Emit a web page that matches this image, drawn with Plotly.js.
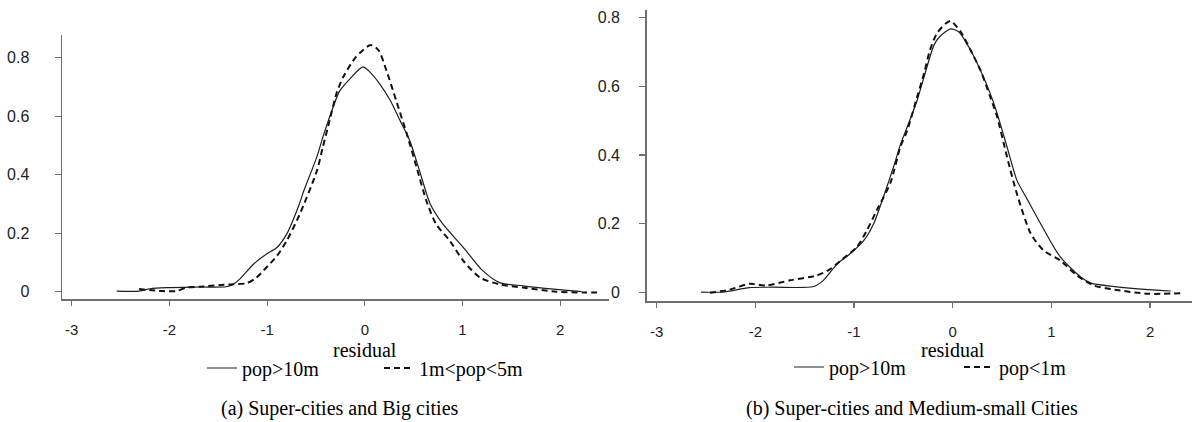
<!DOCTYPE html>
<html>
<head>
<meta charset="utf-8">
<script src="https://cdn.plot.ly/plotly-3.0.1.min.js"></script>
<style>
html,body{margin:0;padding:0;background:#fff;}
#chart{width:1192px;height:422px;}
</style>
</head>
<body>
<div id="chart"></div>
<script>
// ---- Panel (a): Super-cities (pop>10m) vs Big cities (1m<pop<5m) ----
const aSuperX = [-2.54,-2.31,-2.20,-2.03,-1.69,-1.42,-1.35,-1.28,-1.14,-1.01,-0.90,-0.80,-0.67,-0.63,-0.49,-0.43,-0.32,-0.26,-0.15,-0.02,0.05,0.15,0.26,0.36,0.46,0.56,0.67,0.80,1.01,1.21,1.38,1.62,1.96,2.22];
const aSuperY = [0.002,0.002,0.010,0.014,0.016,0.017,0.025,0.043,0.094,0.128,0.151,0.197,0.300,0.340,0.462,0.528,0.635,0.685,0.729,0.769,0.752,0.712,0.655,0.586,0.517,0.414,0.300,0.231,0.151,0.071,0.031,0.020,0.008,0.000];
const aBigX = [-2.31,-2.07,-1.93,-1.83,-1.69,-1.38,-1.21,-1.11,-1.01,-0.90,-0.80,-0.67,-0.49,-0.43,-0.36,-0.29,-0.22,-0.09,0.06,0.14,0.22,0.32,0.43,0.53,0.63,0.73,0.87,1.01,1.18,1.38,1.62,1.96,2.24,2.41];
const aBigY = [0.009,0.002,0.002,0.014,0.017,0.025,0.029,0.048,0.082,0.122,0.174,0.262,0.414,0.494,0.586,0.678,0.735,0.803,0.844,0.826,0.758,0.655,0.540,0.426,0.311,0.231,0.174,0.105,0.048,0.025,0.014,0.000,-0.003,-0.003];

// ---- Panel (b): Super-cities (pop>10m) vs Medium-small cities (pop<1m) ----
const bSuperX = [-2.55,-2.33,-2.06,-1.82,-1.41,-1.31,-1.17,-1.04,-0.90,-0.80,-0.70,-0.60,-0.53,-0.46,-0.36,-0.29,-0.19,-0.13,-0.02,0.06,0.18,0.28,0.38,0.45,0.55,0.65,0.76,0.89,1.09,1.30,1.40,1.64,1.98,2.21];
const bSuperY = [0.002,0.002,0.015,0.016,0.018,0.036,0.084,0.113,0.152,0.201,0.280,0.365,0.430,0.482,0.559,0.627,0.719,0.744,0.766,0.758,0.705,0.647,0.579,0.521,0.424,0.327,0.269,0.201,0.104,0.045,0.028,0.018,0.009,0.005];
const bSmallX = [-2.46,-2.26,-2.06,-1.89,-1.65,-1.38,-1.25,-1.11,-0.97,-0.87,-0.77,-0.63,-0.53,-0.46,-0.36,-0.29,-0.23,-0.16,-0.07,-0.02,0.08,0.18,0.28,0.38,0.45,0.55,0.65,0.79,0.92,1.09,1.26,1.43,1.64,1.98,2.32];
const bSmallY = [0.000,0.009,0.026,0.021,0.036,0.050,0.067,0.099,0.133,0.181,0.239,0.320,0.424,0.472,0.569,0.637,0.705,0.753,0.782,0.789,0.758,0.705,0.647,0.569,0.511,0.395,0.288,0.172,0.123,0.094,0.050,0.021,0.009,-0.003,-0.001];

// ---- Ticks, labels ----
const xTickVals = [-3,-2,-1,0,1,2];
const xTickText = ['-3','-2','-1','0','1','2'];
const yTickVals = [0,0.2,0.4,0.6,0.8];
const yTickText = ['0','0.2','0.4','0.6','0.8'];
const seriesNames = ['pop>10m','1m<pop<5m','pop>10m','pop<1m'];
const xTitle = 'residual';
const captions = ['(a) Super-cities and Big cities','(b) Super-cities and Medium-small Cities'];

const W = 1192, H = 422;
const serif = 'Liberation Serif, Times New Roman, serif';
const sans = 'Liberation Sans, Arial, sans-serif';
const axisCol = '#6e6e6e';

const solid = {color:'#1e1e1e', width:1.2, shape:'spline', smoothing:0.7};
const dashed = {color:'#111', width:2, dash:'6px,4px', shape:'spline', smoothing:0.7};

const traces = [
  {x:aSuperX, y:aSuperY, xaxis:'x', yaxis:'y', name:seriesNames[0], mode:'lines', line:solid, legend:'legend'},
  {x:aBigX, y:aBigY, xaxis:'x', yaxis:'y', name:seriesNames[1], mode:'lines', line:dashed, legend:'legend'},
  {x:bSuperX, y:bSuperY, xaxis:'x2', yaxis:'y2', name:seriesNames[2], mode:'lines', line:solid, legend:'legend2'},
  {x:bSmallX, y:bSmallY, xaxis:'x2', yaxis:'y2', name:seriesNames[3], mode:'lines', line:dashed, legend:'legend2'}
];

function xa(domain, range, anchor){
  return {domain:domain, range:range, anchor:anchor, showline:true, linecolor:axisCol, linewidth:1.5,
    ticks:'outside', ticklen:5, tickwidth:1.2, tickcolor:axisCol, tickvals:xTickVals, ticktext:xTickText,
    tickfont:{family:sans, size:15, color:'#222'}, ticklabelstandoff:11, showgrid:false, zeroline:false, fixedrange:true};
}
function ya(domain, range, anchor, standoff){
  return {domain:domain, range:range, anchor:anchor, showline:true, linecolor:axisCol, linewidth:1.5,
    ticks:'outside', ticklen:6, tickwidth:1.2, tickcolor:axisCol, tickvals:yTickVals, ticktext:yTickText,
    tickfont:{family:sans, size:16, color:'#222'}, ticklabelstandoff:standoff, showgrid:false, zeroline:false, fixedrange:true};
}
function legendAt(leftPx, cy, ew){
  return {orientation:'h', x:leftPx/W, xanchor:'left', y:(H-cy)/H, yanchor:'middle',
    entrywidth:ew, entrywidthmode:'pixels',
    font:{family:serif, size:20, color:'#000'}, bgcolor:'rgba(0,0,0,0)', borderwidth:0};
}

const layout = {
  width:W, height:H,
  margin:{l:0, r:0, t:0, b:0},
  paper_bgcolor:'#fff', plot_bgcolor:'#fff',
  xaxis: xa([62/W, 609/W], [-3.10, 2.50], 'y'),
  yaxis: ya([(H-299)/H, (H-35)/H], [-0.025, 0.878], 'x', 22),
  xaxis2: xa([646.7/W, 1], [-3.101, 2.425], 'y2'),
  yaxis2: ya([(H-301)/H, (H-10)/H], [-0.024, 0.821], 'x2', 16),
  showlegend:true,
  legend: legendAt(202, 368, 132),
  legend2: legendAt(789, 367, 125),
  annotations:[
    {xref:'x', yref:'paper', x:0, y:(H-350)/H, text:xTitle, showarrow:false, xanchor:'center', yanchor:'middle', font:{family:serif, size:20, color:'#000'}},
    {xref:'x2', yref:'paper', x:0, y:(H-350)/H, text:xTitle, showarrow:false, xanchor:'center', yanchor:'middle', font:{family:serif, size:20, color:'#000'}},
    {xref:'paper', yref:'paper', x:340/W, y:(H-408)/H, text:captions[0], showarrow:false, xanchor:'center', yanchor:'middle', font:{family:serif, size:20, color:'#000'}},
    {xref:'paper', yref:'paper', x:912/W, y:(H-408)/H, text:captions[1], showarrow:false, xanchor:'center', yanchor:'middle', font:{family:serif, size:20, color:'#000'}}
  ]
};

Plotly.newPlot('chart', traces, layout, {staticPlot:true, displayModeBar:false});
</script>
</body>
</html>
